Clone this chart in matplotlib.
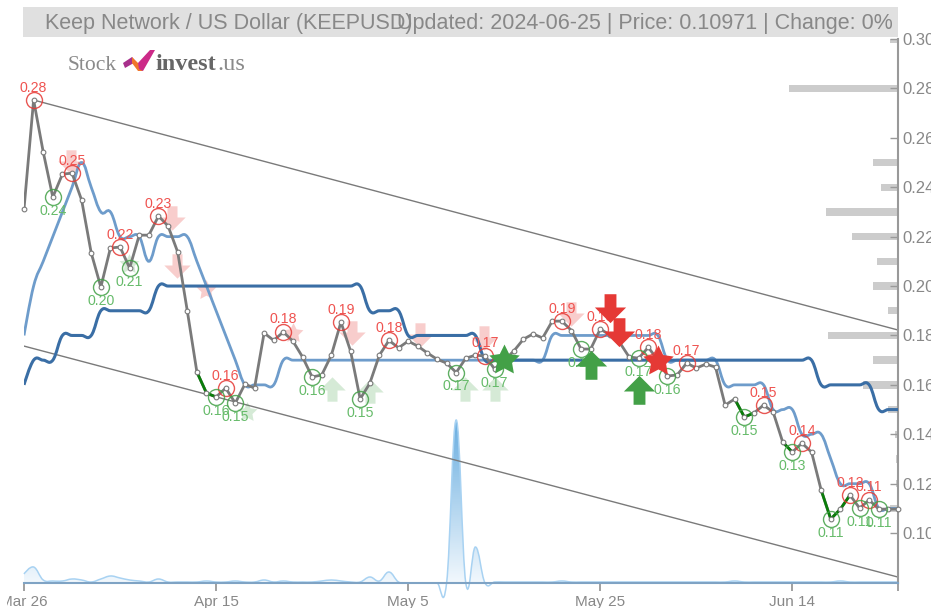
import matplotlib
matplotlib.use("Agg")
import matplotlib.pyplot as plt
import matplotlib.patches as mpatches
from matplotlib.path import Path
from matplotlib.transforms import Bbox
import numpy as np

plt.rcParams["font.family"] = ["Liberation Sans", "DejaVu Sans"]

W, H = 931, 608

close = [0.2312, 0.2753, 0.2543, 0.2360, 0.2453, 0.2457, 0.2348, 0.2134, 0.1996, 0.2154,
         0.2158, 0.2073, 0.2206, 0.2206, 0.2283, 0.2243, 0.2138, 0.1900, 0.1652, 0.1567,
         0.1551, 0.1587, 0.1526, 0.1603, 0.1587, 0.1810, 0.1780, 0.1814, 0.1777, 0.1713,
         0.1632, 0.1640, 0.1720, 0.1854, 0.1737, 0.1543, 0.1606, 0.1720, 0.1780, 0.1750,
         0.1777, 0.1757, 0.1729, 0.1704, 0.1688, 0.1650, 0.1708, 0.1720, 0.1717, 0.1664,
         0.1700, 0.1737, 0.1785, 0.1806, 0.1790, 0.1858, 0.1858, 0.1820, 0.1745, 0.1745,
         0.1826, 0.1802, 0.1773, 0.1713, 0.1708, 0.1752, 0.1700, 0.1636, 0.1640, 0.1688,
         0.1668, 0.1684, 0.1672, 0.1518, 0.1543, 0.1470, 0.1486, 0.1518, 0.1490, 0.1368,
         0.1328, 0.1364, 0.1328, 0.1174, 0.1057, 0.1097, 0.1154, 0.1101, 0.1134, 0.1097,
         0.1097, 0.10971]

sma_short = [.18, .20, .21, .22, .23, .24, .25, .24, .23, .23, .22, .22, .22, .21, .22, .22,
             .22, .22, .21, .20, .19, .18, .17, .16, .16, .16, .16, .17, .17, .17, .17, .17,
             .17, .17, .17, .17, .17, .17, .17, .17, .17, .17, .17, .17, .17, .17, .17, .17,
             .17, .17, .17, .17, .17, .17, .17, .18, .18, .18, .18, .18, .18, .18, .18, .18,
             .18, .18, .18, .17, .17, .17, .17, .17, .17, .16, .16, .16, .16, .16, .15, .15,
             .15, .14, .14, .14, .13, .12, .12, .12, .12, .11, .11, .11]

sma_long = [.16, .17, .17, .17, .18, .18, .18, .18, .19, .19, .19, .19, .19, .19, .20, .20,
            .20, .20, .20, .20, .20, .20, .20, .20, .20, .20, .20, .20, .20, .20, .20, .20,
            .20, .20, .20, .20, .19, .19, .19, .19, .18, .18, .18, .18, .18, .18, .18, .18,
            .17, .17, .17, .17, .17, .17, .17, .17, .17, .17, .17, .17, .17, .17, .17, .17,
            .17, .17, .17, .17, .17, .17, .17, .17, .17, .17, .17, .17, .17, .17, .17, .17,
            .17, .17, .17, .16, .16, .16, .16, .16, .16, .15, .15, .15]

volume = [9, 16, 3, 2, 2, 4, 3, 1, 4, 7, 5, 3, 2, 1, 4, 1, 1, 1, 1, 2, 1, 1, 2, 1, 1, 3, 1, 2,
          1, 1, 1, 2, 3, 2, 1, 1, 6, 2, 11, 1, 0, 0, 0, 0, 0, 163, 0, 36, 0, 1, 1, 1, 1, 1, 1,
          1, 2, 1, 1, 1, 1, 1, 1, 1, 1, 1, 1, 1, 1, 1, 1, 1, 1, 1, 2, 1, 1, 1, 1, 1, 1, 1, 1,
          1, 1, 2, 1, 1, 1, 1, 1, 1]

high_days = [1, 5, 10, 14, 21, 27, 33, 38, 48, 56, 60, 65, 69, 77, 81, 86, 88]
low_days = [3, 8, 11, 20, 22, 30, 35, 45, 49, 58, 64, 67, 75, 80, 84, 87, 89]
green_runs = [(18, 20), (74, 76), (79, 80), (83, 86)]

trend_days = [1, 91]
trend_upper = [0.2753, 0.1822]
trend_lower_days = [0, 91]
trend_lower = [0.1757, 0.0822]

hist_levels = [.30, .28, .25, .24, .23, .22, .21, .20, .19, .18, .17, .16, .15, .14, .13, .12, .11]
hist_counts = [8, 109, 25, 17, 72, 46, 21, 25, 10, 70, 25, 35, 10, 3, 2, 2, 8]

y_ticks = [.10, .12, .14, .16, .18, .20, .22, .24, .26, .28, .30]
x_ticks = [0, 20, 40, 60, 80, 91]
x_labels = ["Mar 26", "Apr 15", "May 5", "May 25", "Jun 14", ""]

# faded signals
pale_down = [(4.9, 0.2505), (15.4, 0.2280), (15.9, 0.2085)]
pale_down += [(34.2, 0.1815), (41.2, 0.1805), (47.9, 0.1795), (57, 0.1890)]
pale_sell_star = [(18.9, 0.1985), (28, 0.1810)]
pale_up = [(32.1, 0.1580), (36, 0.1570), (45.9, 0.1580), (49, 0.1580)]
pale_buy_star = [(10.9, 0.2090), (23.2, 0.1490)]
# strong signals
strong_down = [(61, 0.1915), (62, 0.1820)]
strong_up = [(59, 0.1675), (64, 0.1575)]
buy_star = [(50, 0.1700)]
sell_star = [(66, 0.1695)]

GREY = "#7a7a7a"
AXIS = "#999999"
LIGHT = "#6e9ccb"
DARK = "#3a6ea5"
RED = "#e53935"
GREEN = "#43a047"

UP_ARROW = Path([(0, 1), (1, 0), (0.38, 0), (0.38, -0.85), (-0.38, -0.85), (-0.38, 0), (-1, 0), (0, 1)])
DOWN_ARROW = Path([(0, -1), (1, 0), (0.38, 0), (0.38, 0.85), (-0.38, 0.85), (-0.38, 0), (-1, 0), (0, -1)])
STAR = Path.unit_regular_star(5, innerCircle=0.5)


def spline_path(x, y):
    """same control points as a highcharts spline, no limiting"""
    xs = np.asarray(x, dtype=float)
    ys = np.asarray(y, dtype=float)
    left = []
    right = []
    for i in range(len(xs)):
        if i == 0 or i == len(xs) - 1:
            left.append((xs[i], ys[i]))
            right.append((xs[i], ys[i]))
            continue
        lx = (1.5 * xs[i] + xs[i - 1]) / 2.5
        ly = (1.5 * ys[i] + ys[i - 1]) / 2.5
        rx = (1.5 * xs[i] + xs[i + 1]) / 2.5
        ry = (1.5 * ys[i] + ys[i + 1]) / 2.5
        c = (ry - ly) * (rx - xs[i]) / (rx - lx) + ys[i] - ry
        left.append((lx, ly + c))
        right.append((rx, ry + c))
    verts = [(xs[0], ys[0])]
    codes = [Path.MOVETO]
    for i in range(1, len(xs)):
        verts += [right[i - 1], left[i], (xs[i], ys[i])]
        codes += [Path.CURVE4] * 3
    return verts, codes


def fx(px):
    return px / W


def fy(py):
    return 1 - py / H


def main():
    fig = plt.figure(figsize=(W / 100, H / 100), dpi=100)
    ax = fig.add_axes([fx(24), fy(583), (898 - 24) / W, (583 - 39) / H])
    ax_vol = ax.twinx()
    ax_hist = ax.twiny()
    days = np.arange(len(close))

    # title band and logo
    fig.patches.append(mpatches.Rectangle((fx(23), fy(37)), 875 / W, 30 / H, transform=fig.transFigure,
                                          facecolor="#e0e0e0", edgecolor="none", zorder=0))
    fig.text(fx(45), fy(24), "Keep Network / US Dollar (KEEPUSD)", fontsize=15.5, color="#888888", va="center")
    fig.text(fx(397), fy(24), "Updated: 2024-06-25 | Price: 0.10971 | Change: 0%", fontsize=15.5,
             color="#888888", va="center")
    fig.text(fx(68), fy(65), "Stock", fontsize=15.5, color="#8a8a8a", family="Liberation Serif", va="center")
    fig.text(fx(155), fy(65), "invest", fontsize=17.5, color="#666666", family="Liberation Serif",
             fontweight="bold", va="center")
    fig.text(fx(217), fy(65), ".us", fontsize=17.5, color="#8a8a8a", family="Liberation Serif", va="center")
    logo = [([(123, 63), (132, 57), (136, 62), (132, 64), (125, 68)], "#a8308c"),
            ([(132, 57), (138, 63), (143, 71), (138, 71), (132, 63)], "#f0762b"),
            ([(138, 63), (150, 50), (155, 50), (143, 71), (139, 69)], "#cc2a88")]
    for pts, col in logo:
        fig.patches.append(mpatches.Polygon([(fx(a), fy(b)) for a, b in pts], closed=True,
                                            transform=fig.transFigure, facecolor=col, edgecolor="none"))

    # price level histogram on the right
    ax_hist.set_xlim(874, 0)
    ax_hist.barh(hist_levels, hist_counts, height=0.003, color="#cccccc", edgecolor="none")
    ax_hist.axis("off")

    # volume
    ax_vol.set_ylim(0, 544)
    ax_vol.axis("off")
    verts, codes = spline_path(days, volume)
    ax_vol.add_patch(mpatches.PathPatch(Path(verts, codes), facecolor="none", edgecolor="#a8d2f2",
                                        lw=1.1, clip_on=False))
    fill = mpatches.PathPatch(Path(verts + [(days[-1], 0), (0, 0), (0, 0)],
                                   codes + [Path.LINETO, Path.LINETO, Path.CLOSEPOLY]),
                              facecolor="none", edgecolor="none")
    ax_vol.add_patch(fill)
    grad = np.linspace(0, 1, 200).reshape(-1, 1)
    cmap = matplotlib.colors.LinearSegmentedColormap.from_list("vol", ["#f2f8fd", "#6aaee0"])
    im = ax_vol.imshow(grad, extent=(0, 91, 0, 163), origin="lower", aspect="auto", cmap=cmap)
    im.set_clip_path(fill)
    ax_vol.set_xlim(0, 91)
    ax_vol.set_ylim(0, 544)

    ax.set_zorder(3)
    ax.patch.set_visible(False)
    ax.set_xlim(0, 91)
    ax.set_ylim(0.0798, 0.30)

    # channel
    ax.plot(trend_days, trend_upper, color=GREY, lw=1, zorder=2)
    ax.plot(trend_lower_days, trend_lower, color=GREY, lw=1, zorder=2)

    def signals(pts, marker, col, alpha, size, z):
        xs = [p[0] for p in pts]
        ys = [p[1] for p in pts]
        ax.plot(xs, ys, ls="none", marker=marker, ms=size, mfc=col, mec="none", alpha=alpha, zorder=z,
                clip_on=False)

    signals(pale_down, DOWN_ARROW, RED, 0.25, 19, 3)
    signals(pale_sell_star, STAR, RED, 0.25, 15, 3)
    signals(pale_up, UP_ARROW, GREEN, 0.22, 19, 3)
    signals(pale_buy_star, STAR, GREEN, 0.22, 15, 3)

    # moving averages
    for vals, col, width in [(sma_short, LIGHT, 2.0), (sma_long, DARK, 2.2)]:
        v, c = spline_path(days, vals)
        ax.add_patch(mpatches.PathPatch(Path(v, c), facecolor="none", edgecolor=col, lw=width, zorder=4))

    # price
    ax.plot(days, close, color=GREY, lw=2.0, zorder=5)
    for a, b in green_runs:
        ax.plot(days[a:b + 1], close[a:b + 1], color="#0a7d0a", lw=2.0, zorder=5.5)
    ax.plot(days, close, ls="none", marker="o", ms=3.4, mfc="white", mec=GREY, mew=0.8, zorder=6, clip_on=False)

    # highs and lows
    for d in high_days:
        ax.plot(d, close[d], marker="o", ms=11.5, mfc="none", mec=RED, mew=1, alpha=0.85, zorder=7)
        ax.annotate(f"{close[d]:.2f}", (d, close[d]), xytext=(0, 9), textcoords="offset points", ha="center",
                    va="center", fontsize=10.2, color="#ef5350", zorder=7)
    for d in low_days:
        ax.plot(d, close[d], marker="o", ms=11.5, mfc="none", mec=GREEN, mew=1, alpha=0.85, zorder=7)
        ax.annotate(f"{close[d]:.2f}", (d, close[d]), xytext=(0, -10), textcoords="offset points", ha="center",
                    va="center", fontsize=10.2, color="#66bb6a", zorder=7)

    signals(strong_down, DOWN_ARROW, RED, 1, 22.5, 8)
    signals(strong_up, UP_ARROW, GREEN, 1, 22.5, 8)
    signals(buy_star, STAR, GREEN, 1, 23, 8)
    signals(sell_star, STAR, RED, 1, 23, 8)

    # axes
    for side in ["top", "left"]:
        ax.spines[side].set_visible(False)
    ax.spines["right"].set_color(AXIS)
    ax.spines["right"].set_linewidth(1.5)
    ax.spines["bottom"].set_color("#7fa3c4")
    ax.spines["bottom"].set_linewidth(1.5)
    ax.yaxis.tick_right()
    ax.set_yticks(y_ticks)
    ax.set_yticklabels([f"{t:.2f}" for t in y_ticks])
    ax.set_xticks(x_ticks)
    ax.set_xticklabels(x_labels)
    ax.tick_params(axis="y", direction="in", length=6, width=1, color=AXIS, labelcolor="#888888",
                   labelsize=12, pad=3)
    ax.tick_params(axis="x", direction="out", length=5.5, width=1.3, color=AXIS, labelcolor="#888888",
                   labelsize=11, pad=3)
    clip = Bbox([[7, 0], [W, H]])
    for lab in ax.get_xticklabels():
        lab.set_clip_box(clip)
        lab.set_clip_on(True)
    for lab in ax.get_yticklabels():
        lab.set_clip_on(False)

    fig.savefig("out.png", dpi=100)
    plt.close(fig)


if __name__ == "__main__":
    main()
